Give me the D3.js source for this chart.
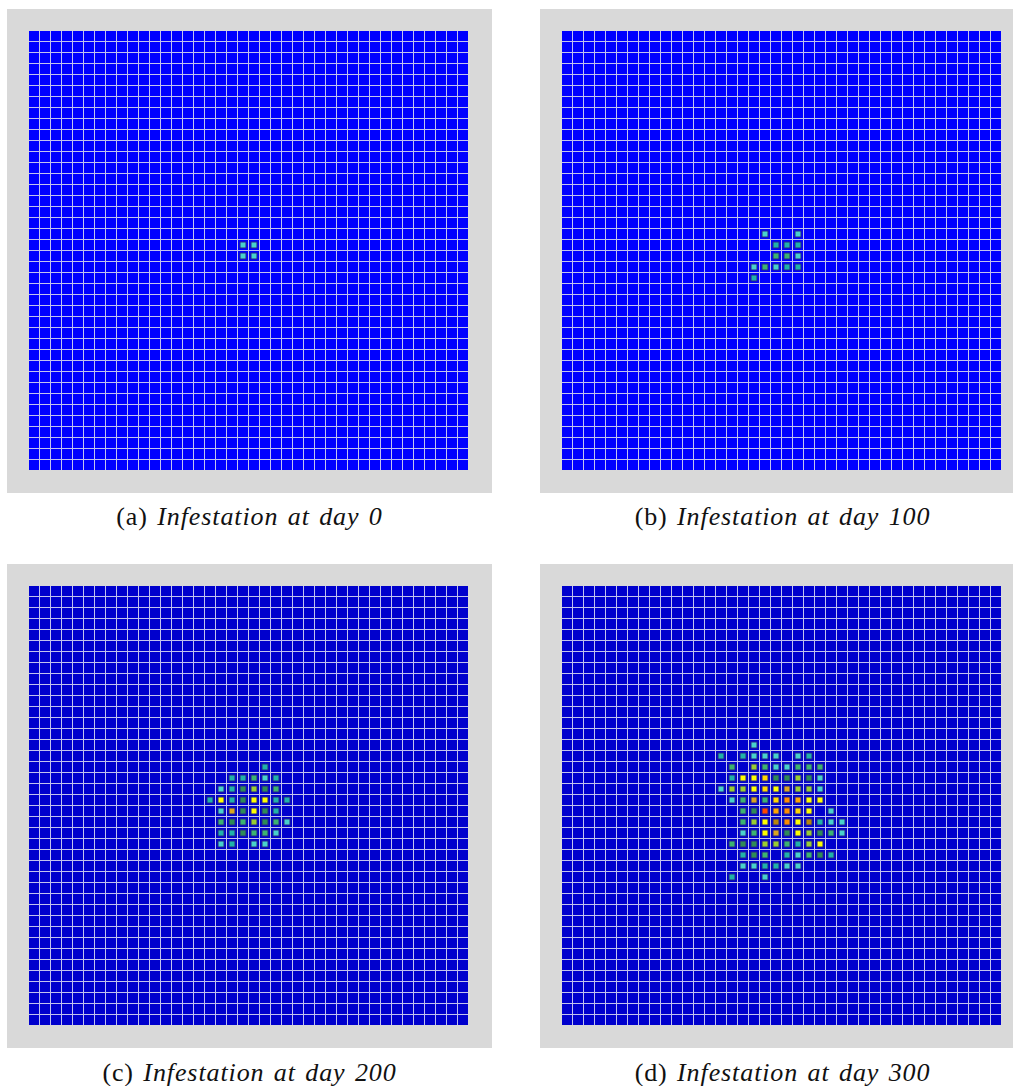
<!DOCTYPE html>
<html>
<head>
<meta charset="utf-8">
<script src="https://cdn.jsdelivr.net/npm/d3@7"></script>
<style>
  body { margin: 0; background: #fff; }
  text { font-family: "Liberation Serif", serif; }
</style>
</head>
<body>
<svg id="chart"></svg>
<script>
const gridSize = 40;
const panelLetters = ["(a)", "(b)", "(c)", "(d)"];
const panelDays = [0, 100, 200, 300];

// each entry: [row, first column, cell codes], "." = healthy cell
const day0Rows = [
  [19, 19, "cc"],
  [20, 19, "cc"],
];
const day100Rows = [
  [18, 18, "c..c"],
  [19, 19, "ttt"],
  [20, 19, "mmc"],
  [21, 17, "cmctt"],
  [22, 17, "t"],
];
const day200Rows = [
  [16, 21, "t"],
  [17, 18, "ttmct"],
  [18, 17, "ctsysm"],
  [19, 16, "tYtsYYtt"],
  [20, 17, "crsYst"],
  [21, 17, "msmysmc"],
  [22, 17, "ttsmmc"],
  [23, 17, "ct.cc"],
];
const day300Rows = [
  [14, 17, "c"],
  [15, 14, "t.tccc.ct"],
  [16, 15, "m.ymccmmm"],
  [17, 15, "tYYgssysc"],
  [18, 14, "cyyYgYryyc"],
  [19, 15, "cmrmgdoYY"],
  [20, 16, "msRodgY.c"],
  [21, 16, "myYbdYbtcc"],
  [22, 16, "cmYrsYysmc"],
  [23, 15, "mssyymtyY"],
  [24, 16, "tsm.tcmst"],
  [25, 16, "ccttcc"],
  [26, 15, "t..c"],
];

// infestation level codes -> colour
const levelCodes  = ["c", "t", "m", "s", "y", "Y", "g", "o", "d", "r", "b", "R"];
const levelColors = ["#48d1cc", "#20b2aa", "#3cb371", "#2e8b57", "#9acd32", "#ffff00",
                     "#ffd700", "#ffa500", "#ff8c00", "#daa520", "#b8860b", "#ff4500"];
const healthyColors = ["#0000ff", "#0000ff", "#0000cd", "#0000cd"];

const allRows = [day0Rows, day100Rows, day200Rows, day300Rows];

const W = 1013, H = 1086;
const svg = d3.select("#chart").attr("width", W).attr("height", H);
svg.append("rect").attr("width", W).attr("height", H).attr("fill", "#fff");

const panelPos = [[7, 9], [540, 9], [7, 564], [540, 564]];
const frame = 485, inset = 22, gridPx = 439;

const color = d3.scaleOrdinal().domain(levelCodes).range(levelColors);
const band = d3.scaleBand().domain(d3.range(gridSize)).range([0, gridPx]).paddingInner(1 / 11);

function infested(rows) {
  const out = [];
  rows.forEach(([r, c0, codes]) => {
    codes.split("").forEach((k, i) => {
      if (k !== ".") out.push({ r: r, c: c0 + i, k: k });
    });
  });
  return out;
}

allRows.forEach((rows, p) => {
  const [px, py] = panelPos[p];
  const g = svg.append("g").attr("transform", `translate(${px},${py})`);

  g.append("rect")
    .attr("width", frame).attr("height", frame - 1)
    .attr("fill", "#d9d9d9");

  const grid = g.append("g").attr("transform", `translate(${inset},${inset})`);
  grid.append("rect")
    .attr("width", gridPx).attr("height", gridPx)
    .attr("fill", "#c2c2ee");

  grid.selectAll(".cell")
    .data(d3.cross(d3.range(gridSize), d3.range(gridSize)))
    .join("rect")
    .attr("class", "cell")
    .attr("x", d => band(d[1]))
    .attr("y", d => band(d[0]))
    .attr("width", band.bandwidth())
    .attr("height", band.bandwidth())
    .attr("fill", healthyColors[p]);

  grid.selectAll(".hot")
    .data(infested(rows))
    .join("rect")
    .attr("class", "hot")
    .attr("x", d => band(d.c) + 2)
    .attr("y", d => band(d.r) + 2)
    .attr("width", band.bandwidth() - 4)
    .attr("height", band.bandwidth() - 4)
    .attr("fill", d => color(d.k))
    .attr("stroke", "#25258a")
    .attr("stroke-width", 1);

  const cap = g.append("text")
    .attr("x", frame / 2)
    .attr("y", p < 2 ? 516 : 517)
    .attr("text-anchor", "middle")
    .attr("font-size", 26)
    .attr("letter-spacing", "0.9px")
    .attr("word-spacing", "2px")
    .attr("fill", "#111");
  cap.append("tspan").text(panelLetters[p] + " ");
  cap.append("tspan").attr("font-style", "italic").text("Infestation at day " + panelDays[p]);
});
</script>
</body>
</html>
